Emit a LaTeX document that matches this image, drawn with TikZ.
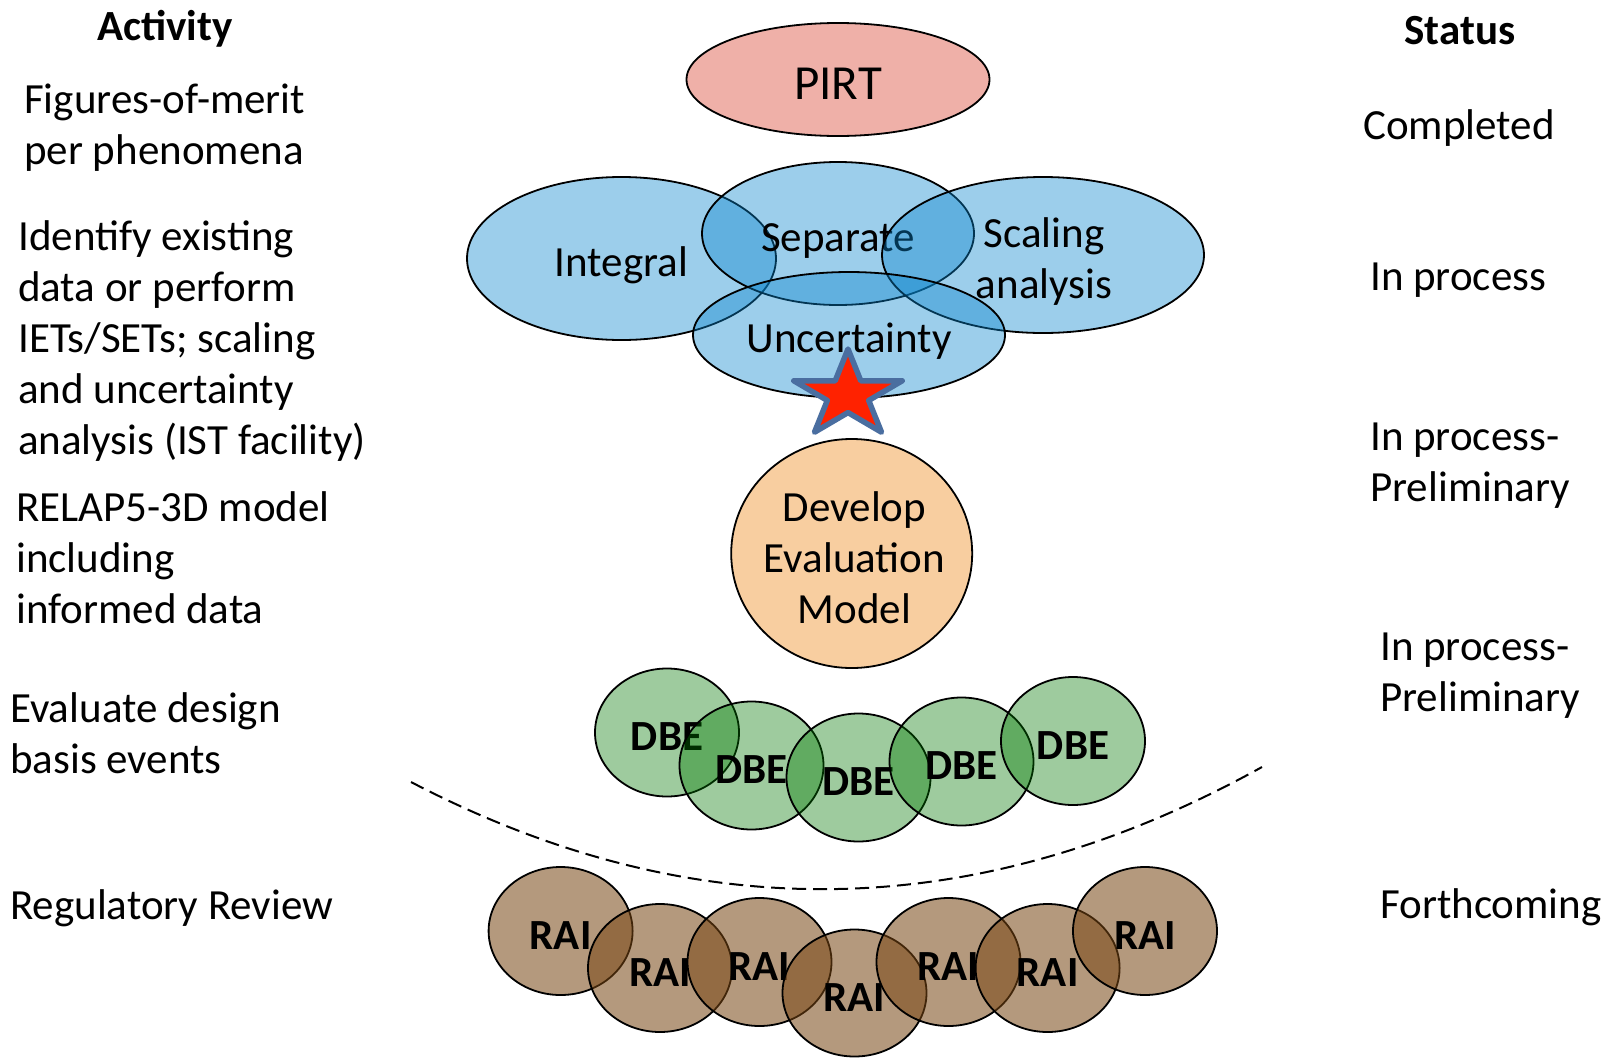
\documentclass[tikz,border=0pt]{standalone}
\usepackage{fontspec}
\setmainfont{Carlito}
\usetikzlibrary{shapes.geometric}
\definecolor{pirtfill}{RGB}{239,176,168}
\definecolor{bluefill}{RGB}{9,133,205}
\definecolor{devfill}{RGB}{248,206,160}
\definecolor{dbefill}{RGB}{0,120,0}
\definecolor{raifill}{RGB}{120,70,20}
\definecolor{starfill}{RGB}{255,34,0}
\definecolor{starline}{RGB}{74,110,160}
\begin{document}
\begin{tikzpicture}[x=1pt,y=-1pt,
  txt/.style={font=\fontsize{43}{51}\selectfont, inner sep=0pt, align=left, anchor=west},
  centertxt/.style={font=\fontsize{43}{51}\selectfont, inner sep=0pt, align=center},
  headtxt/.style={font=\fontsize{43}{51}\selectfont\bfseries, inner sep=0pt},
  oval/.style={ellipse, draw=black, line width=1.8pt, inner sep=0pt, align=center,
               font=\fontsize{43}{51}\selectfont},
  blueoval/.style={oval, fill=bluefill, fill opacity=0.4, text opacity=1, text depth=0pt},
  dbeoval/.style={oval, fill=dbefill, fill opacity=0.38, text opacity=1,
               minimum width=144pt, minimum height=128pt,
               font=\fontsize{43}{51}\selectfont\bfseries, text height=36pt, text depth=0pt},
  raioval/.style={oval, fill=raifill, fill opacity=0.55, text opacity=1,
               minimum width=144pt, minimum height=128pt,
               font=\fontsize{43}{51}\selectfont\bfseries, text height=36pt, text depth=0pt},
  dashline/.style={line width=2pt, dash pattern=on 14pt off 7pt}
]
\fill[white] (0,0) rectangle (1604,1058);
\useasboundingbox (0,0) rectangle (1604,1058);

% headers
\node[headtxt] (acthead) at (165,29) {Activity};
\node[headtxt] (stathead) at (1460,31) {Status};

% activity texts
\node[txt] (a1) at (24,128) {Figures-of-merit\\per phenomena};
\node[txt] (a2) at (18,341) {Identify existing\\data or perform\\IETs/SETs; scaling\\and uncertainty\\analysis (IST facility)};
\node[txt] (a3) at (16,558) {RELAP5-3D model\\including\\informed data};
\node[txt] (a4) at (10,733.5) {Evaluate design\\basis events};
\node[txt] (a5) at (10,908) {Regulatory Review};

% status texts
\node[txt] (s1) at (1363,128) {Completed};
\node[txt] (s2) at (1370,280) {In process};
\node[txt] (s3) at (1370,466) {In process-\\Preliminary};
\node[txt] (s4) at (1380,676) {In process-\\Preliminary};
\node[txt] (s5) at (1380,907) {Forthcoming};

% PIRT
\node[oval, fill=pirtfill, minimum width=303pt, minimum height=113pt,
      font=\fontsize{49}{58}\selectfont, text height=40.6pt, text depth=0pt] (pirt) at (838,79.5) {PIRT};

% blue ellipses
\node[blueoval, minimum width=309pt, minimum height=163pt, text height=36.7pt] (integral) at (621.5,258.5) {Integral};
\node[blueoval, minimum width=272pt, minimum height=143pt, text height=35.3pt] (separate) at (838,233.5) {Separate};
\node[blueoval, minimum width=322pt, minimum height=156pt] (scaling) at (1043,255) {};
\node[centertxt] (scalingtxt) at (1044,261.5) {Scaling\\analysis};
\node[blueoval, minimum width=312pt, minimum height=126pt, text height=35pt] (uncert) at (849,335) {Uncertainty};

% star
\draw[line width=5.5pt, draw=starline, fill=starfill, line join=round]
  plot[samples at={0,...,9}, variable=\k]
  ({848+57*(0.691+0.309*cos(180*\k))*cos(90+36*\k)},
   {395-46*(0.691+0.309*cos(180*\k))*sin(90+36*\k)}) -- cycle;

% develop evaluation model
\node[oval, fill=devfill, minimum width=241pt, minimum height=229pt] (dev) at (851.7,553.5) {};
\node[centertxt] (devtxt) at (854.5,557.5) {Develop\\Evaluation\\Model};

% dashed separator
\coordinate (dl) at (411,782);
\coordinate (dr) at (1262,767);
\draw[dashline] (dl) .. controls (694,929.7) and (977.7,924.7) .. (dr);

% DBE
\node[dbeoval] (dbe1) at (667,732.5) {DBE};
\node[dbeoval] (dbe2) at (751.5,765.5) {DBE};
\node[dbeoval] (dbe3) at (858.5,777.5) {DBE};
\node[dbeoval] (dbe4) at (961.5,761.5) {DBE};
\node[dbeoval] (dbe5) at (1073,741) {DBE};

% RAI
\node[raioval] (rai1) at (560.6,931) {RAI};
\node[raioval] (rai2) at (660,968) {RAI};
\node[raioval] (rai3) at (759.5,962) {RAI};
\node[raioval, minimum height=127pt] (rai4) at (854.5,993) {RAI};
\node[raioval] (rai5) at (948.5,962) {RAI};
\node[raioval] (rai6) at (1047.6,968) {RAI};
\node[raioval] (rai7) at (1145,931) {RAI};
\end{tikzpicture}
\end{document}
